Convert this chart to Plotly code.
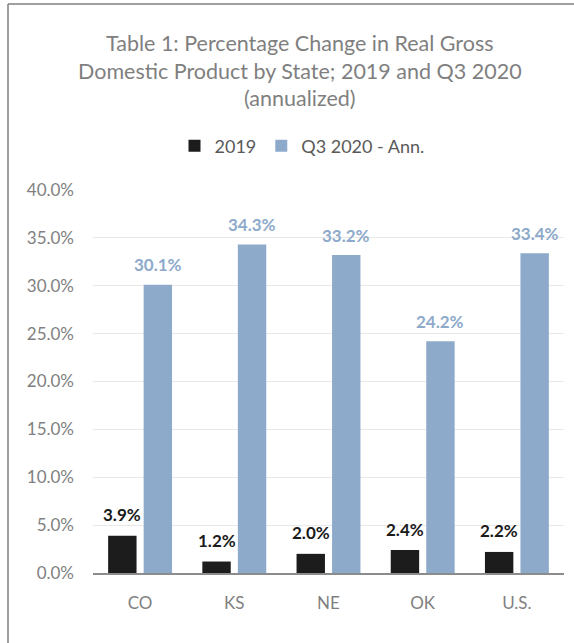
import plotly.graph_objects as go

# ---- data ----
states = ["CO", "KS", "NE", "OK", "U.S."]
gdp_2019 = [3.9, 1.2, 2.0, 2.4, 2.2]
gdp_q3_2020 = [30.1, 34.3, 33.2, 24.2, 33.4]
series_names = ["2019", "Q3 2020 - Ann."]
y_ticks = [0, 5, 10, 15, 20, 25, 30, 35, 40]
title_lines = ["Table 1: Percentage Change in Real Gross",
               "Domestic Product by State; 2019 and Q3 2020",
               "(annualized)"]

# ---- style ----
W, H = 574, 643
ML, MR, MT, MB = 93, 10, 190, 70
BLACK = "#1c1c1c"
BLUE = "#8eaacb"
GRAY = "#7f7f7f"
FONT = "Lato"
BARGAP = 0.246
GROUPGAP = 0.2

fig = go.Figure()
fig.add_trace(go.Bar(x=states, y=gdp_2019, name=series_names[0],
                     marker=dict(color=BLACK, line=dict(width=0))))
fig.add_trace(go.Bar(x=states, y=gdp_q3_2020, name=series_names[1],
                     marker=dict(color=BLUE, line=dict(width=0))))

plot_w = W - ML - MR
plot_h = H - MT - MB

def px_x(p):
    return (p - ML) / plot_w

def px_y(p):
    return (H - MB - p) / plot_h

# data labels positioned via the axes
off = (1 - BARGAP) / 4
annotations = []
for i, v in enumerate(gdp_2019):
    annotations.append(dict(x=i - off, y=v, xref="x", yref="y", text=f"{v:.1f}%",
                            showarrow=False, yshift=21,
                            font=dict(family=FONT, size=17, color="#1a1a1a", weight="bold")))
for i, v in enumerate(gdp_q3_2020):
    annotations.append(dict(x=i + off, y=v, xref="x", yref="y", text=f"{v:.1f}%",
                            showarrow=False, yshift=20,
                            font=dict(family=FONT, size=17, color=BLUE, weight="bold")))

# title lines
for j, (line, ypx) in enumerate(zip(title_lines, [43, 71, 98])):
    annotations.append(dict(x=px_x(300), y=px_y(ypx), xref="paper", yref="paper",
                            text=line, showarrow=False, xanchor="center", yanchor="middle",
                            font=dict(family=FONT, size=21.5, color=GRAY)))

shapes = [
    dict(type="line", xref="paper", yref="paper", x0=px_x(8), x1=px_x(W + 5),
         y0=px_y(4), y1=px_y(4), line=dict(color=GRAY, width=1.5)),
    dict(type="line", xref="paper", yref="paper", x0=px_x(8), x1=px_x(8),
         y0=px_y(4), y1=px_y(H + 5), line=dict(color=GRAY, width=1.5)),
]

fig.update_layout(
    width=W, height=H,
    margin=dict(l=ML, r=MR, t=MT, b=MB),
    paper_bgcolor="white", plot_bgcolor="white",
    font=dict(family=FONT, color=GRAY),
    barmode="group", bargap=BARGAP, bargroupgap=GROUPGAP,
    legend=dict(orientation="h", x=px_x(302), xanchor="center",
                y=px_y(146), yanchor="middle",
                font=dict(family=FONT, size=18, color="#595959"),
                itemwidth=30, traceorder="normal"),
    annotations=annotations,
    shapes=shapes,
    showlegend=True,
)
fig.update_xaxes(type="category", showgrid=False, showline=True,
                 linecolor="#8c8c8c", linewidth=1.5, ticks="",
                 ticklabelstandoff=14,
                 tickfont=dict(family=FONT, size=17, color=GRAY))
fig.update_yaxes(range=[0, 40], tickvals=y_ticks,
                 ticktext=[f"{t:.1f}%" for t in y_ticks],
                 showgrid=True, gridcolor="#e8e8e8", gridwidth=1,
                 zeroline=False, showline=False, ticks="",
                 ticklabelstandoff=18,
                 tickfont=dict(family=FONT, size=17, color=GRAY))

fig.write_html("out.html")
